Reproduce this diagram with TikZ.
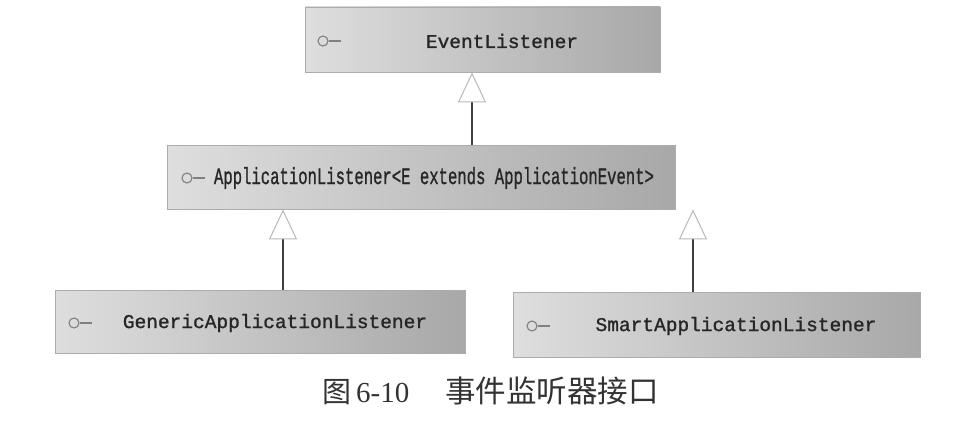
\documentclass[tikz,border=0pt]{standalone}
\usepackage{fontspec}
\usepackage{graphicx}
\setmainfont{Liberation Serif}
\newfontfamily\boxmono[FakeBold=1.2]{Liberation Mono}
\newfontfamily\cjk{Noto Sans CJK SC}
\usetikzlibrary{arrows.meta}
\tikzset{
  ibox/.style={draw=gray!65, line width=0.8pt, left color={rgb,255:red,222;green,222;blue,222}, right color={rgb,255:red,168;green,168;blue,168}, rectangle, inner sep=0pt},
  itext/.style={font=\boxmono\fontsize{19.5}{22}\selectfont, text=black!85, inner sep=0pt},
  lolly/.style={draw=gray, line width=1.1pt},
  inherit/.style={draw=black!75, line width=2pt, -{Triangle[length=30pt,width=28pt,line width=1pt,color=gray!55,fill=white]}, shorten >=0pt}
}
\begin{document}
\begin{tikzpicture}[x=1pt,y=-1pt]
\useasboundingbox (0,0) rectangle (968,420);
% boxes
\node[ibox, minimum width=355pt, minimum height=65pt] (b1) at (482.5,39.5) {};
\node[ibox, minimum width=508pt, minimum height=64pt] (b2) at (421,177) {};
\node[ibox, minimum width=410pt, minimum height=63pt] (b3) at (260,321.5) {};
\node[ibox, minimum width=407pt, minimum height=65pt] (b4) at (716.5,324.5) {};
% texts
\node[itext] (t1) at (502,41) {EventListener};
\node[itext] (t2) at (434,178) {\scalebox{0.8}[1.2]{ApplicationListener<E extends ApplicationEvent>}};
\node[itext] (t3) at (275,323) {GenericApplicationListener};
\node[itext] (t4) at (736,326) {SmartApplicationListener};
% lollipop icons
\node[lolly, circle, minimum size=10pt, inner sep=0pt] (c1) at (323,41) {};
\draw[lolly] (c1.east) -- ++(12,0);
\node[lolly, circle, minimum size=10pt, inner sep=0pt] (c2) at (187,178) {};
\draw[lolly] (c2.east) -- ++(12,0);
\node[lolly, circle, minimum size=10pt, inner sep=0pt] (c3) at (74,323) {};
\draw[lolly] (c3.east) -- ++(12,0);
\node[lolly, circle, minimum size=10pt, inner sep=0pt] (c4) at (532,326) {};
\draw[lolly] (c4.east) -- ++(12,0);
% connectors
\coordinate (x1) at (472,0);
\coordinate (x2) at (283,0);
\coordinate (x3) at (693,0);
\draw[inherit] (x1 |- b2.north) -- (x1 |- b1.south);
\draw[inherit] (x2 |- b3.north) -- (x2 |- b2.south);
\draw[inherit] (x3 |- b4.north) -- (x3 |- b2.south);
% caption
\node[font=\fontsize{29}{32}\selectfont, text=black!80, inner sep=0pt, anchor=west] (cap) at (322,391) {{\cjk 图}\hspace{5pt}6-10\hspace{36pt}{\cjk\fontsize{30.5}{32}\selectfont 事件监听器接口}};
\end{tikzpicture}
\end{document}
